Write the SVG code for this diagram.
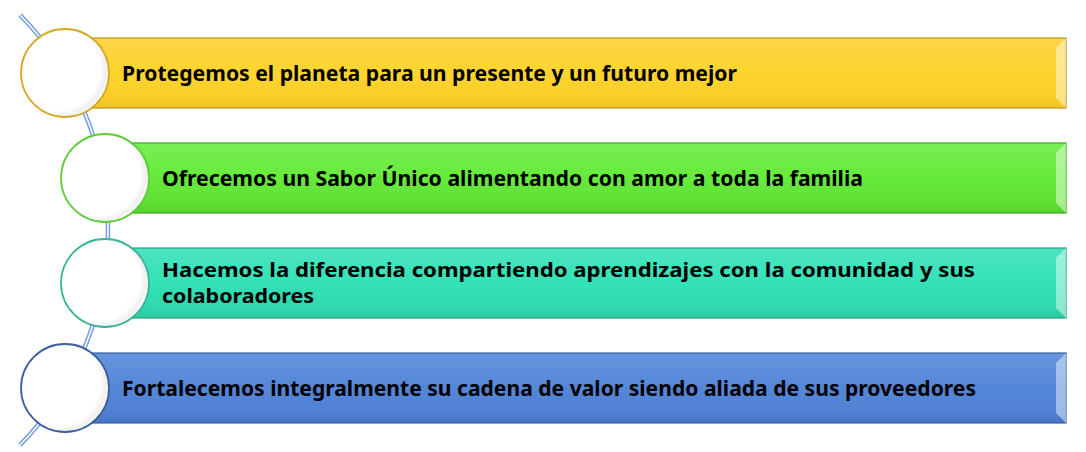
<svg xmlns="http://www.w3.org/2000/svg" width="1086" height="452" viewBox="0 0 1086 452">
<defs>
<linearGradient id="gY" x1="0" y1="0" x2="0" y2="1">
<stop offset="0" stop-color="#fdd447"/><stop offset="0.5" stop-color="#fdd52e"/><stop offset="0.85" stop-color="#f9cd27"/><stop offset="1" stop-color="#f2c226"/>
</linearGradient>
<linearGradient id="gG" x1="0" y1="0" x2="0" y2="1">
<stop offset="0" stop-color="#78ee55"/><stop offset="0.5" stop-color="#66ea3b"/><stop offset="0.85" stop-color="#5fe135"/><stop offset="1" stop-color="#55d22c"/>
</linearGradient>
<linearGradient id="gT" x1="0" y1="0" x2="0" y2="1">
<stop offset="0" stop-color="#4de4c0"/><stop offset="0.5" stop-color="#33e2b6"/><stop offset="0.85" stop-color="#2fd8ad"/><stop offset="1" stop-color="#2cc9a0"/>
</linearGradient>
<linearGradient id="gB" x1="0" y1="0" x2="0" y2="1">
<stop offset="0" stop-color="#6795de"/><stop offset="0.5" stop-color="#5587d8"/><stop offset="0.85" stop-color="#4f80d2"/><stop offset="1" stop-color="#4775c4"/>
</linearGradient>
<radialGradient id="gC" cx="0.42" cy="0.45" r="0.58">
<stop offset="0" stop-color="#ffffff"/><stop offset="0.82" stop-color="#ffffff"/><stop offset="0.93" stop-color="#f0f0f0"/><stop offset="1" stop-color="#fafafa"/>
</radialGradient>
<style>
.t{font-family:"Noto Sans","Open Sans","Liberation Sans",sans-serif;font-weight:bold;font-size:22px;fill:#000}
.t3{font-size:19px}
.bev{fill:#ffffff;opacity:0.45}
.circ{fill:url(#gC);stroke-width:1.8}
</style>
</defs>
<g id="connectors">
<path d="M20,15 A306.6,306.6 0 0,1 20,445" fill="none" stroke="#6f9be0" stroke-width="4.5"/>
<path d="M20,15 A306.6,306.6 0 0,1 20,445" fill="none" stroke="#ffffff" stroke-width="1.6"/>
</g>
<g id="node1">
<rect x="65" y="38" width="1001" height="70" fill="url(#gY)" stroke="#b8931c" stroke-width="1.2"/>
<polygon points="1066,38 1056,48 1056,98 1066,108" class="bev"/>
<circle cx="65" cy="73" r="44" class="circ" stroke="#d6a927"/>
<text class="t" x="122" y="81" textLength="615" lengthAdjust="spacingAndGlyphs">Protegemos el planeta para un presente y un futuro mejor</text>
</g>
<g id="node2">
<rect x="105" y="143" width="961" height="70" fill="url(#gG)" stroke="#3fa81f" stroke-width="1.2"/>
<polygon points="1066,143 1056,153 1056,203 1066,213" class="bev"/>
<circle cx="105" cy="178" r="44" class="circ" stroke="#5fcc3c"/>
<text class="t" x="162" y="186" textLength="701" lengthAdjust="spacingAndGlyphs">Ofrecemos un Sabor Único alimentando con amor a toda la familia</text>
</g>
<g id="node3">
<rect x="105" y="248" width="961" height="70" fill="url(#gT)" stroke="#27a07f" stroke-width="1.2"/>
<polygon points="1066,248 1056,258 1056,308 1066,318" class="bev"/>
<circle cx="105" cy="283" r="44" class="circ" stroke="#3ab597"/>
<text class="t t3" x="162" y="277" textLength="813" lengthAdjust="spacingAndGlyphs">Hacemos la diferencia compartiendo aprendizajes con la comunidad y sus</text>
<text class="t t3" x="162" y="303" textLength="152" lengthAdjust="spacingAndGlyphs">colaboradores</text>
</g>
<g id="node4">
<rect x="65" y="353" width="1001" height="70" fill="url(#gB)" stroke="#3b63a6" stroke-width="1.2"/>
<polygon points="1066,353 1056,363 1056,413 1066,423" class="bev"/>
<circle cx="65" cy="388" r="44" class="circ" stroke="#3c5f9e"/>
<text class="t" x="122" y="396" textLength="854" lengthAdjust="spacingAndGlyphs">Fortalecemos integralmente su cadena de valor siendo aliada de sus proveedores</text>
</g>
</svg>
